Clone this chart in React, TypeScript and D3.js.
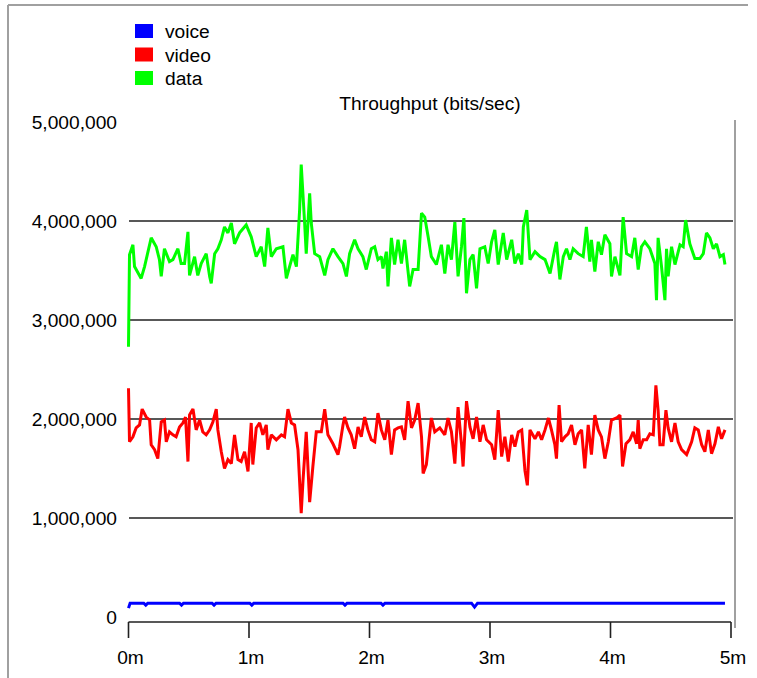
import React from "react";
import * as d3 from "d3";

// time in seconds, throughput in Mbit/s (scaled to bits/sec below)
const voiceSeries: [number, number][] = [
  [0, 0.09], [0.8, 0.14], [7.6, 0.14], [8.6, 0.12], [9.6, 0.14], [25.4, 0.14], [26.4, 0.12], [27.4, 0.14],
  [41.6, 0.14], [42.6, 0.12], [43.6, 0.14], [60.4, 0.14], [61.4, 0.12], [62.4, 0.14], [106.8, 0.14],
  [107.8, 0.12], [108.8, 0.14], [125.7, 0.14], [126.7, 0.12], [127.7, 0.14], [170.8, 0.14], [172.3, 0.1],
  [173.8, 0.14], [297, 0.14],
];

const videoSeries: [number, number][] = [
  [0, 2.31], [0.5, 1.77], [2.2, 1.82], [3.8, 1.91], [5.5, 1.94], [6.8, 2.1], [8.8, 2.02], [10.5, 1.99], [11.3, 1.74],
  [13.0, 1.69], [14.6, 1.6], [16.3, 1.97], [17.9, 1.99], [18.8, 1.77], [20.4, 1.87], [22.1, 1.84], [23.7, 1.82],
  [25.4, 1.92], [27.1, 1.96], [28.4, 2.02], [29.6, 1.57], [30.4, 2.04], [32.1, 2.1], [33.7, 1.89], [35.4, 1.99],
  [37.0, 1.87], [38.7, 1.84], [40.4, 1.89], [42.0, 1.97], [43.7, 2.1], [44.5, 1.89], [46.2, 1.67], [47.8, 1.5],
  [49.5, 1.59], [51.2, 1.55], [52.8, 1.84], [54.5, 1.59], [56.1, 1.57], [57.8, 1.67], [59.5, 1.47], [61.1, 1.96],
  [61.9, 1.54], [63.6, 1.91], [65.3, 1.96], [66.9, 1.84], [68.6, 1.94], [69.4, 1.69], [71.1, 1.84], [73.6, 1.79],
  [76.1, 1.84], [77.7, 1.82], [79.4, 2.1], [81.1, 1.96], [82.7, 1.94], [84.4, 1.69], [86.0, 1.05], [86.9, 1.38],
  [88.5, 1.87], [90.2, 1.16], [91.8, 1.52], [93.5, 1.87], [96.0, 1.87], [97.7, 2.1], [99.3, 1.84], [101.8, 1.75],
  [104.3, 1.64], [105.1, 1.72], [106.8, 1.94], [107.6, 2.02], [109.3, 1.91], [110.9, 1.84], [112.6, 1.7],
  [114.3, 1.92], [115.9, 1.82], [117.6, 2.02], [119.2, 1.89], [120.9, 1.79], [122.6, 1.77], [124.2, 2.06],
  [125.9, 1.89], [127.6, 1.79], [129.2, 1.99], [130.9, 1.64], [132.5, 1.89], [134.2, 1.91], [135.9, 1.92],
  [137.5, 1.79], [139.2, 2.18], [140.9, 1.91], [142.5, 1.99], [144.2, 2.16], [145.9, 1.82], [146.7, 1.45],
  [148.3, 1.54], [150.8, 2.01], [152.5, 1.87], [155.0, 1.91], [157.5, 1.84], [159.1, 2.01], [160.8, 1.87],
  [162.5, 1.55], [164.1, 2.12], [165.8, 1.75], [166.6, 1.52], [168.3, 2.18], [170.0, 1.92], [171.6, 1.8],
  [173.3, 2.02], [175.0, 1.77], [176.6, 1.94], [178.3, 1.79], [180.8, 1.74], [182.4, 1.59], [184.1, 2.09],
  [185.8, 1.62], [187.4, 1.82], [189.1, 1.57], [190.8, 1.84], [192.4, 1.72], [194.1, 1.87], [195.8, 1.89],
  [197.4, 1.48], [198.6, 1.33], [199.9, 1.89], [202.4, 1.8], [204.1, 1.87], [205.7, 1.79], [207.4, 1.89],
  [209.1, 2.01], [210.6, 1.89], [212.3, 1.74], [213.1, 1.6], [214.4, 2.14], [215.6, 1.77], [217.3, 1.82],
  [218.9, 1.85], [220.6, 1.94], [222.3, 1.74], [223.9, 1.85], [225.6, 1.89], [227.2, 1.5], [228.9, 1.94],
  [230.5, 1.64], [232.2, 2.04], [233.9, 1.89], [235.5, 1.82], [237.2, 1.6], [238.9, 1.77], [240.5, 1.99],
  [243.0, 2.01], [244.7, 2.04], [246.0, 1.52], [247.7, 1.75], [249.6, 1.79], [251.3, 1.87], [253.0, 1.75],
  [253.8, 1.99], [254.6, 1.7], [256.3, 1.79], [258.0, 1.79], [259.6, 1.85], [261.3, 1.84], [262.6, 2.34],
  [263.7, 2.09], [264.6, 1.74], [266.2, 1.74], [267.6, 2.09], [268.7, 1.91], [270.4, 1.77], [272.1, 1.96],
  [273.7, 1.77], [275.4, 1.69], [277.9, 1.64], [280.4, 1.77], [282.0, 1.91], [283.7, 1.89], [285.4, 1.74],
  [287.0, 1.67], [288.7, 1.89], [290.3, 1.65], [292.0, 1.75], [293.7, 1.92], [295.3, 1.8], [297.0, 1.89],
];

const dataSeries: [number, number][] = [
  [0, 2.73], [0.5, 3.66], [2.2, 3.76], [3, 3.54], [6.3, 3.42], [8, 3.54], [11.3, 3.83], [13.8, 3.74], [15.4, 3.61],
  [16.3, 3.44], [17.9, 3.72], [20.4, 3.59], [22.1, 3.61], [24.6, 3.72], [26.2, 3.57], [27.9, 3.57], [29.6, 3.89],
  [30.4, 3.45], [32.9, 3.64], [34.5, 3.45], [36.2, 3.57], [38.7, 3.67], [40.4, 3.44], [41.2, 3.37], [42.9, 3.67],
  [44.5, 3.72], [46.2, 3.81], [47.8, 3.94], [49.5, 3.88], [51.2, 3.98], [52.8, 3.77], [55.3, 3.88], [58.6, 3.96],
  [61.1, 3.84], [63.6, 3.64], [66.1, 3.74], [67.8, 3.54], [69.4, 3.93], [71.1, 3.64], [73.6, 3.72], [76.9, 3.74],
  [78.6, 3.42], [80.2, 3.54], [81.9, 3.66], [83.6, 3.54], [85.2, 4.11], [86.0, 4.57], [87.7, 3.98], [88.5, 3.67],
  [90.2, 4.28], [91.0, 3.98], [92.7, 3.67], [95.2, 3.64], [97.7, 3.45], [99.3, 3.61], [101.8, 3.72], [104.3, 3.64],
  [106.8, 3.57], [108.5, 3.44], [110.1, 3.67], [112.6, 3.81], [114.3, 3.72], [116.7, 3.64], [118.4, 3.51],
  [120.9, 3.72], [122.6, 3.74], [124.2, 3.61], [125.9, 3.64], [126.7, 3.52], [128.4, 3.69], [129.2, 3.34],
  [130.9, 3.83], [132.5, 3.56], [134.2, 3.81], [135.9, 3.57], [137.5, 3.81], [140.0, 3.34], [141.7, 3.51],
  [144.2, 3.51], [145.9, 4.08], [147.5, 4.04], [149.2, 3.84], [150.8, 3.64], [153.3, 3.56], [155.8, 3.76],
  [157.5, 3.47], [159.1, 3.76], [160.8, 3.61], [162.5, 3.99], [164.1, 3.44], [165.8, 3.74], [167.0, 4.03],
  [168.3, 3.27], [170.0, 3.61], [171.6, 3.66], [173.3, 3.32], [175.0, 3.72], [177.4, 3.74], [179.1, 3.57],
  [180.8, 3.79], [182.4, 3.91], [184.1, 3.56], [186.6, 3.88], [188.3, 3.61], [190.8, 3.81], [192.4, 3.57],
  [194.1, 3.67], [195.8, 3.56], [196.6, 3.94], [198.3, 4.11], [199.9, 3.61], [202.4, 3.69], [204.9, 3.64],
  [207.4, 3.61], [209.9, 3.47], [212.3, 3.72], [213.1, 3.79], [214.8, 3.41], [216.5, 3.64], [218.1, 3.72],
  [219.8, 3.61], [221.4, 3.72], [223.9, 3.67], [226.4, 3.64], [228.0, 3.94], [229.7, 3.59], [230.5, 3.81],
  [232.2, 3.49], [233.9, 3.79], [235.5, 3.66], [237.2, 3.86], [239.7, 3.77], [240.5, 3.44], [242.2, 3.64],
  [244.7, 3.45], [246.3, 4.04], [248.0, 3.67], [250.5, 3.64], [252.1, 3.83], [253.8, 3.51], [255.4, 3.74],
  [257.1, 3.79], [259.6, 3.72], [262.1, 3.57], [262.9, 3.2], [263.7, 3.83], [265.4, 3.54], [267.1, 3.2],
  [267.9, 3.72], [268.7, 3.44], [270.4, 3.74], [272.1, 3.56], [274.6, 3.76], [276.2, 3.74], [277.4, 4.01],
  [279.5, 3.77], [282.0, 3.62], [284.5, 3.62], [286.2, 3.67], [287.8, 3.88], [289.5, 3.83], [291.2, 3.72],
  [292.8, 3.77], [294.5, 3.64], [296.2, 3.66], [297.0, 3.56],
];

const seriesNames = ["voice", "video", "data"];
const seriesColors = ["#0000ff", "#ff0000", "#00ff00"];
const yTicks = [0, 1000000, 2000000, 3000000, 4000000, 5000000];
const yGridTicks = [1000000, 2000000, 3000000, 4000000];
const xTicks = [0, 60, 120, 180, 240, 300];
const xTickLabels = ["0m", "1m", "2m", "3m", "4m", "5m"];
const chartTitle = "Throughput (bits/sec)";

const FONT = "'Liberation Sans', Arial, sans-serif";
const FS = 19.2;

export default function App() {
  const W = 757;
  const H = 678;
  const x = d3.scaleLinear().domain([0, 300]).range([128.5, 731]);
  const y = d3.scaleLinear().domain([0, 5000000]).range([617, 122]);
  const line = d3
    .line<[number, number]>()
    .x((d) => x(d[0]))
    .y((d) => y(d[1] * 1e6))
    .curve(d3.curveLinear);
  const fmt = d3.format(",");
  const allSeries = [voiceSeries, videoSeries, dataSeries];
  const axisY = 622;

  return (
    <svg
      width={W}
      height={H}
      style={{ position: "absolute", left: 0, top: 0, background: "#fff" }}
      fontFamily={FONT}
    >
      <rect x={0} y={0} width={W} height={H} fill="#fff" />
      {/* outer frame */}
      <line x1={8} y1={5} x2={748} y2={5} stroke="#a0a0a0" strokeWidth={2} />
      <line x1={8} y1={5} x2={8} y2={H} stroke="#a0a0a0" strokeWidth={2} />

      {/* legend */}
      {seriesNames.map((n, i) => (
        <g key={n}>
          <rect x={135} y={24 + i * 23.5} width={18} height={14} fill={seriesColors[i]} />
          <text x={165} y={31.5 + i * 23.5} dy="0.35em" fontSize={FS} fill="#000">
            {n}
          </text>
        </g>
      ))}

      {/* title */}
      <text x={430} y={103} dy="0.35em" textAnchor="middle" fontSize={FS} fill="#000">
        {chartTitle}
      </text>

      {/* gridlines */}
      {yGridTicks.map((t) => (
        <line key={t} x1={129} x2={733} y1={y(t)} y2={y(t)} stroke="#202020" strokeWidth={1.6} />
      ))}

      {/* right axis line */}
      <line x1={735} x2={735} y1={120} y2={628} stroke="#a0a0a0" strokeWidth={2} />

      {/* y labels */}
      {yTicks.map((t) => (
        <text key={t} x={117} y={y(t)} dy="0.35em" textAnchor="end" fontSize={FS} fill="#000">
          {fmt(t)}
        </text>
      ))}

      {/* x axis */}
      <line x1={x(0)} x2={x(300)} y1={axisY} y2={axisY} stroke="#202020" strokeWidth={1.6} />
      {xTicks.map((t, i) => (
        <g key={t}>
          <line x1={x(t)} x2={x(t)} y1={axisY} y2={638} stroke="#202020" strokeWidth={1.6} />
          <text x={x(t) + 2} y={657} dy="0.35em" textAnchor="middle" fontSize={FS} fill="#000">
            {xTickLabels[i]}
          </text>
        </g>
      ))}

      {/* series */}
      {allSeries.map((s, i) => (
        <path
          key={seriesNames[i]}
          d={line(s) || ""}
          fill="none"
          stroke={seriesColors[i]}
          strokeWidth={3}
          strokeLinejoin="miter"
          strokeMiterlimit={2}
        />
      ))}
    </svg>
  );
}
